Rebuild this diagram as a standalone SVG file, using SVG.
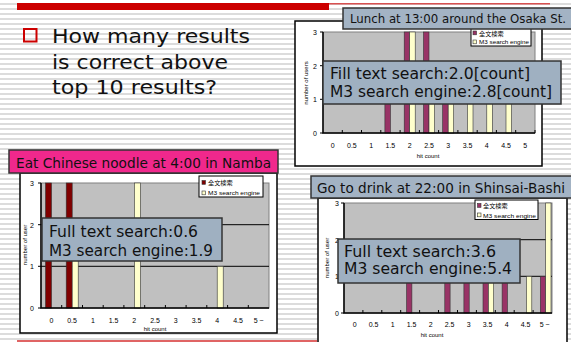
<svg xmlns="http://www.w3.org/2000/svg" width="571" height="342" viewBox="0 0 571 342">
<defs>
  <pattern id="stripes" width="10" height="5" patternUnits="userSpaceOnUse">
    <rect width="10" height="5" fill="#ffffff"/>
    <rect y="3" width="10" height="2" fill="#dcdcdc"/>
  </pattern>
  <style>
    .frame { fill: #ffffff; stroke: #000000; stroke-width: 1.5; }
    .plot { fill: #c0c0c0; stroke: #808080; stroke-width: 1; }
    .grid { stroke: #000000; stroke-width: 1; }
    .axis { fill: none; stroke: #000000; stroke-width: 1.5; }
    .tick { stroke: #000000; stroke-width: 1; }
    .fts { fill: #993366; stroke: #333333; stroke-width: 0.6; }
    .fts-dark { fill: #800000; stroke: #333333; stroke-width: 0.6; }
    .m3 { fill: #ffffcc; stroke: #333333; stroke-width: 0.6; }
    .lbl { font-family: "Liberation Sans", Arial, sans-serif; font-size: 7px; fill: #000000; text-anchor: middle; }
    .ylbl { font-family: "Liberation Sans", Arial, sans-serif; font-size: 7px; fill: #000000; text-anchor: middle; }
    .axtitle { font-family: "Liberation Sans", Arial, sans-serif; font-size: 6px; fill: #000000; text-anchor: middle; }
    .legend { fill: #ffffff; stroke: #000000; stroke-width: 1; }
    .legtxt { font-family: "Liberation Sans", "Noto Sans CJK JP", sans-serif; font-size: 6.2px; fill: #000000; }
    .title-box { fill: #a3b3c4; stroke: #333333; stroke-width: 1.5; }
    .title-pink { fill: #f0288c; stroke: #333333; stroke-width: 1.5; }
    .title-txt { font-family: "DejaVu Sans", sans-serif; fill: #111111; }
    .callout { fill: #9fb0c1; stroke: #333333; stroke-width: 1.5; }
    .callout-txt { font-family: "DejaVu Sans", sans-serif; font-size: 15.5px; fill: #111111; }
    .question { font-family: "DejaVu Sans", sans-serif; font-size: 20px; fill: #111111; }
  </style>
</defs>

<!-- striped slide background -->
<rect width="571" height="342" fill="url(#stripes)"/>

<!-- slide rules -->
<g id="slide-rules">
  <rect x="17" y="3" width="312" height="7" fill="#cc0000"/>
  <rect x="329" y="3" width="221" height="1.5" fill="#d85050"/>
  <rect x="17" y="340" width="300" height="2" fill="#e06464"/>
</g>

<!-- bullet question -->
<g id="question">
  <rect x="24" y="29" width="12.5" height="12.5" fill="none" stroke="#cc0000" stroke-width="2"/>
  <text class="question" x="52" y="43" textLength="198" lengthAdjust="spacingAndGlyphs">How many results</text>
  <text class="question" x="52" y="68.5" textLength="176" lengthAdjust="spacingAndGlyphs">is correct above</text>
  <text class="question" x="52" y="94" textLength="165" lengthAdjust="spacingAndGlyphs">top 10 results?</text>
</g>

<!-- chart: lunch -->
<g id="chart-lunch">
  <rect class="frame" x="295" y="21" width="247" height="145"/>
  <rect class="plot" x="323" y="32" width="212" height="101"/>
  <line class="grid" x1="323" y1="99.3" x2="535" y2="99.3"/>
  <line class="grid" x1="323" y1="65.7" x2="535" y2="65.7"/>
  <rect class="fts" x="384.9" y="99.3" width="5.5" height="33.7"/>
  <rect class="fts" x="404.2" y="32" width="5.5" height="101"/>
  <rect class="fts" x="423.5" y="32" width="5.5" height="101"/>
  <rect class="fts" x="442.7" y="99.3" width="5.5" height="33.7"/>
  <rect class="m3" x="409.7" y="32" width="5.5" height="101"/>
  <rect class="m3" x="429.0" y="99.3" width="5.5" height="33.7"/>
  <rect class="m3" x="448.2" y="99.3" width="5.5" height="33.7"/>
  <rect class="m3" x="467.5" y="99.3" width="5.5" height="33.7"/>
  <rect class="m3" x="486.8" y="99.3" width="5.5" height="33.7"/>
  <rect class="m3" x="506.0" y="99.3" width="5.5" height="33.7"/>
  <path class="axis" d="M323 32 V133 H535"/>
  <path class="tick" d="M342.3 130V133M361.5 130V133M380.8 130V133M400.1 130V133M419.4 130V133M438.6 130V133M457.9 130V133M477.2 130V133M496.4 130V133M515.7 130V133M535 130V133M320 32H323M320 65.7H323M320 99.3H323M320 133H323"/>
  <text class="ylbl" x="315" y="35">3</text>
  <text class="ylbl" x="315" y="68.5">2</text>
  <text class="ylbl" x="315" y="102">1</text>
  <text class="ylbl" x="315" y="135.5">0</text>
  <text class="lbl" x="332.6" y="148">0</text>
  <text class="lbl" x="351.9" y="148">0.5</text>
  <text class="lbl" x="371.2" y="148">1</text>
  <text class="lbl" x="390.4" y="148">1.5</text>
  <text class="lbl" x="409.7" y="148">2</text>
  <text class="lbl" x="429.0" y="148">2.5</text>
  <text class="lbl" x="448.2" y="148">3</text>
  <text class="lbl" x="467.5" y="148">3.5</text>
  <text class="lbl" x="486.8" y="148">4</text>
  <text class="lbl" x="506.0" y="148">4.5</text>
  <text class="lbl" x="525.3" y="148">5</text>
  <text class="axtitle" x="428" y="158">hit count</text>
  <text class="axtitle" transform="translate(308 83) rotate(-90)">number of users</text>
  <rect class="legend" x="471" y="25" width="60" height="21"/>
  <rect class="fts" x="473" y="31" width="3.5" height="3.8"/>
  <text class="legtxt" x="479" y="35.5">全文検索</text>
  <rect class="m3" x="473" y="40" width="3.5" height="3.8"/>
  <text class="legtxt" x="479" y="44.3" textLength="50" lengthAdjust="spacingAndGlyphs">M3 search engine</text>
  <rect class="title-box" x="343" y="8" width="229" height="21"/>
  <text class="title-txt" x="350" y="22.5" font-size="13" textLength="216" lengthAdjust="spacingAndGlyphs">Lunch at 13:00 around the Osaka St.</text>
  <rect class="callout" x="323" y="61" width="238" height="43"/>
  <text class="callout-txt" x="330" y="78.5" textLength="200" lengthAdjust="spacingAndGlyphs">Fill text search:2.0[count]</text>
  <text class="callout-txt" x="330" y="97.3" textLength="222" lengthAdjust="spacingAndGlyphs">M3 search engine:2.8[count]</text>
</g>

<!-- chart: chinese noodle -->
<g id="chart-noodle">
  <rect class="frame" x="20" y="173" width="257" height="160"/>
  <rect class="plot" x="41" y="183" width="228" height="125"/>
  <line class="grid" x1="41" y1="266.3" x2="269" y2="266.3"/>
  <line class="grid" x1="41" y1="224.7" x2="269" y2="224.7"/>
  <rect class="fts-dark" x="45.5" y="183" width="6" height="125"/>
  <rect class="fts-dark" x="66.2" y="183" width="6" height="125"/>
  <rect class="m3" x="72.2" y="224.7" width="6" height="83.3"/>
  <rect class="m3" x="134.4" y="183" width="6" height="125"/>
  <rect class="m3" x="217.2" y="266.3" width="6" height="41.7"/>
  <path class="axis" d="M41 183 V308 H269"/>
  <path class="tick" d="M61.7 305V308M82.5 305V308M103.2 305V308M123.9 305V308M144.7 305V308M165.4 305V308M186.1 305V308M206.8 305V308M227.6 305V308M248.3 305V308M38 183H41M38 224.7H41M38 266.3H41M38 308H41"/>
  <text class="ylbl" x="32" y="186">3</text>
  <text class="ylbl" x="32" y="227.5">2</text>
  <text class="ylbl" x="32" y="269">1</text>
  <text class="ylbl" x="32" y="310.5">0</text>
  <text class="lbl" x="51.4" y="322.5">0</text>
  <text class="lbl" x="72.1" y="322.5">0.5</text>
  <text class="lbl" x="92.9" y="322.5">1</text>
  <text class="lbl" x="113.6" y="322.5">1.5</text>
  <text class="lbl" x="134.3" y="322.5">2</text>
  <text class="lbl" x="155.0" y="322.5">2.5</text>
  <text class="lbl" x="175.8" y="322.5">3</text>
  <text class="lbl" x="196.5" y="322.5">3.5</text>
  <text class="lbl" x="217.2" y="322.5">4</text>
  <text class="lbl" x="238.0" y="322.5">4.5</text>
  <text class="lbl" x="258.7" y="322.5">5 ~</text>
  <text class="axtitle" x="155" y="330.5">hit count</text>
  <text class="axtitle" transform="translate(27 245) rotate(-90)">number of user</text>
  <rect class="legend" x="199" y="176" width="64" height="21"/>
  <rect class="fts-dark" x="202" y="180.5" width="3.5" height="3.8"/>
  <text class="legtxt" x="208" y="185">全文検索</text>
  <rect class="m3" x="202" y="191" width="3.5" height="3.8"/>
  <text class="legtxt" x="208" y="195.3" textLength="52" lengthAdjust="spacingAndGlyphs">M3 search engine</text>
  <rect class="title-pink" x="9" y="150" width="269" height="23"/>
  <text class="title-txt" x="16" y="168" font-size="14.5" textLength="255" lengthAdjust="spacingAndGlyphs">Eat Chinese noodle at 4:00 in Namba</text>
  <rect class="callout" x="42" y="218" width="180" height="43"/>
  <text class="callout-txt" x="49" y="237.3" textLength="149" lengthAdjust="spacingAndGlyphs">Full text search:0.6</text>
  <text class="callout-txt" x="49" y="256" textLength="164" lengthAdjust="spacingAndGlyphs">M3 search engine:1.9</text>
</g>

<!-- chart: drink -->
<g id="chart-drink">
  <rect class="frame" x="318" y="198" width="249" height="150"/>
  <rect class="plot" x="344" y="203" width="208" height="110"/>
  <line class="grid" x1="344" y1="276.3" x2="552" y2="276.3"/>
  <line class="grid" x1="344" y1="239.7" x2="552" y2="239.7"/>
  <rect class="fts" x="406.6" y="276.3" width="5.3" height="36.7"/>
  <rect class="fts" x="444.8" y="276.3" width="5.3" height="36.7"/>
  <rect class="fts" x="463.9" y="276.3" width="5.3" height="36.7"/>
  <rect class="fts" x="483.0" y="276.3" width="5.3" height="36.7"/>
  <rect class="fts" x="502.1" y="276.3" width="5.3" height="36.7"/>
  <rect class="fts" x="540.3" y="276.3" width="5.3" height="36.7"/>
  <rect class="m3" x="488.4" y="276.3" width="5.3" height="36.7"/>
  <rect class="m3" x="526.5" y="276.3" width="5.3" height="36.7"/>
  <rect class="m3" x="545.7" y="203" width="5.3" height="110"/>
  <path class="axis" d="M344 203 V313 H552"/>
  <path class="tick" d="M362.9 310V313M381.8 310V313M400.7 310V313M419.6 310V313M438.5 310V313M457.5 310V313M476.4 310V313M495.3 310V313M514.2 310V313M533.1 310V313M341 203H344M341 239.7H344M341 276.3H344M341 313H344"/>
  <text class="ylbl" x="337" y="206">3</text>
  <text class="ylbl" x="337" y="242.5">2</text>
  <text class="ylbl" x="337" y="279">1</text>
  <text class="ylbl" x="337" y="315.5">0</text>
  <text class="lbl" x="354.6" y="326.5">0</text>
  <text class="lbl" x="373.6" y="326.5">0.5</text>
  <text class="lbl" x="392.6" y="326.5">1</text>
  <text class="lbl" x="411.6" y="326.5">1.5</text>
  <text class="lbl" x="430.6" y="326.5">2</text>
  <text class="lbl" x="449.6" y="326.5">2.5</text>
  <text class="lbl" x="468.6" y="326.5">3</text>
  <text class="lbl" x="487.6" y="326.5">3.5</text>
  <text class="lbl" x="506.6" y="326.5">4</text>
  <text class="lbl" x="525.6" y="326.5">4.5</text>
  <text class="lbl" x="544.6" y="326.5">5 ~</text>
  <text class="axtitle" x="432" y="336.5">hit count</text>
  <text class="axtitle" transform="translate(329 258) rotate(-90)">number of user</text>
  <rect class="legend" x="475" y="200" width="63" height="19.5"/>
  <rect class="fts" x="477.5" y="203.5" width="3.5" height="3.8"/>
  <text class="legtxt" x="483" y="208">全文検索</text>
  <rect class="m3" x="477.5" y="213" width="3.5" height="3.8"/>
  <text class="legtxt" x="483" y="217.5" textLength="53" lengthAdjust="spacingAndGlyphs">M3 search engine</text>
  <rect class="title-box" x="311" y="176" width="261" height="22"/>
  <text class="title-txt" x="317" y="192.5" font-size="14.5" textLength="248" lengthAdjust="spacingAndGlyphs">Go to drink at 22:00 in Shinsai-Bashi</text>
  <rect class="callout" x="338" y="239" width="182" height="44"/>
  <text class="callout-txt" x="344" y="257.3" textLength="152" lengthAdjust="spacingAndGlyphs">Full text search:3.6</text>
  <text class="callout-txt" x="344" y="274" textLength="168" lengthAdjust="spacingAndGlyphs">M3 search engine:5.4</text>
</g>
</svg>
